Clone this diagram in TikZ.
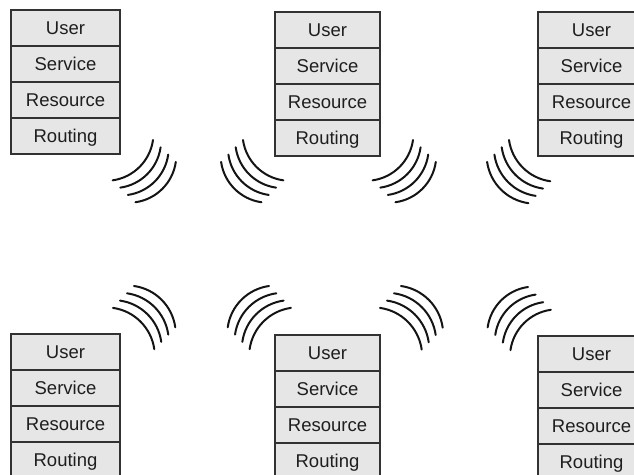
\documentclass[tikz,border=0pt]{standalone}
\usepackage{fontspec}
\setmainfont{Liberation Sans}
\definecolor{layerfill}{RGB}{230,230,230}
\definecolor{layeredge}{RGB}{50,50,50}
\definecolor{inktext}{RGB}{30,30,30}
\definecolor{waveink}{RGB}{20,20,20}
\tikzset{
  layer/.style={rectangle, draw=layeredge, line width=1.2pt, fill=layerfill,
    minimum height=36pt, inner sep=0pt, outer sep=0pt, text=inktext,
    font=\fontsize{18.5}{22}\selectfont, text height=13.3pt, text depth=0pt},
  wave/.style={draw=waveink, line width=2pt, line cap=round}
}
% a protocol stack: #1 name, #2 left edge, #3 top edge (measured downwards), #4 width
\newcommand\protostack[4]{%
  \foreach \lbl [count=\i from 0] in {User,Service,Resource,Routing}{
    \node[layer, minimum width=#4pt] (#1-\lbl) at ({#2+#4/2},{474-#3-18-36*\i}) {\lbl};
  }%
}
% four shifted radio arcs: #1,#2 start of first arc, #3 radius,
% #4 start angle, #5 end angle, #6,#7 shift between arcs
\newcommand\radiowaves[7]{%
  \foreach \k in {0,...,3}{
    \draw[wave] ({#1+#6*\k},{#2+#7*\k})
      arc[start angle=#4, end angle=#5, radius=#3];
  }%
}
\begin{document}
\begin{tikzpicture}[x=1pt,y=1pt]
  \useasboundingbox (0,0) rectangle (634,474);
  \clip (0,0) rectangle (634,474);
  % stations
  \protostack{s1}{11}{10}{109}
  \protostack{s2}{275}{12}{105}
  \protostack{s3}{538}{12}{107}
  \protostack{s4}{11}{334}{109}
  \protostack{s5}{275}{335}{105}
  \protostack{s6}{538}{336}{107}
  % radio links, upper row
  \radiowaves{153}{334}{47.4}{-8}{-82}{7.6}{-7.3}
  \radiowaves{243}{334}{47.4}{188}{262}{-7.3}{-7.3}
  \radiowaves{413}{334}{47.4}{-8}{-82}{7.6}{-7.3}
  \radiowaves{509}{334}{48.5}{188}{262}{-7.3}{-7.3}
  % radio links, lower row
  \radiowaves{134}{188}{48.5}{82}{8}{-7}{-7.3}
  \radiowaves{269}{188}{48.5}{98}{172}{7.3}{-7.3}
  \radiowaves{401}{188}{49}{82}{8}{-7}{-7.3}
  \radiowaves{528}{187}{47.4}{98}{172}{7.6}{-7.6}
\end{tikzpicture}
\end{document}
